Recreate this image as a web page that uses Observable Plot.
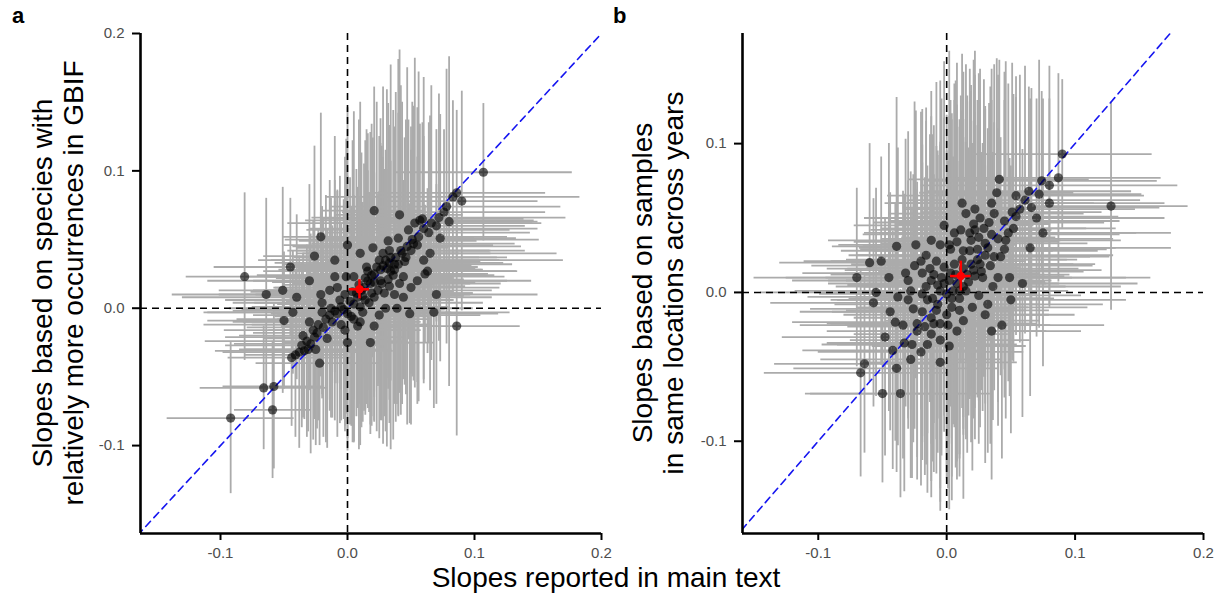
<!DOCTYPE html>
<html>
<head>
<meta charset="utf-8">
<script src="https://cdn.jsdelivr.net/npm/d3@7"></script>
<script src="https://cdn.jsdelivr.net/npm/@observablehq/plot@0.6"></script>
<style>
  html, body { margin: 0; padding: 0; background: #fff; }
  #wrap { position: relative; width: 1220px; height: 594px; overflow: hidden; font-family: "Liberation Sans", Arial, sans-serif; }
  .panel { position: absolute; top: 0; }
  .ytitle { position: absolute; white-space: nowrap; text-align: center; font-size: 28px; line-height: 31px; color: #000;
            transform: translate(-50%, -50%) rotate(-90deg); }
  .xtitle { position: absolute; white-space: nowrap; font-size: 28px; line-height: 30px; color: #000; transform: translateX(-50%); }
  .tag { position: absolute; font-weight: bold; font-size: 22px; color: #000; }
  svg.panel text { font-size: 15px !important; fill: #4d4d4d !important; font-family: "Liberation Sans", Arial, sans-serif !important; }
</style>
</head>
<body>
<div id="wrap">
  <div class="tag" style="left:12px; top:3px;">a</div>
  <div class="tag" style="left:613px; top:3px;">b</div>
  <div class="ytitle" style="left:58px; top:283px;">Slopes based on species with<br>relatively more occurrences in GBIF</div>
  <div class="ytitle" style="left:658px; top:283px;">Slopes based on samples<br>in same locations across years</div>
  <div class="xtitle" style="left:606px; top:563px;">Slopes reported in main text</div>
</div>
<script>
// ---- data: each row is [reported slope, alternative slope, x error (half width), y error (half width)]
const pointsA = [
  [-0.092,-0.080,0.050,0.055],[-0.081,0.023,0.046,0.061],[-0.064,0.010,0.074,0.070],[-0.051,0.013,0.050,0.075],
  [-0.050,-0.009,0.060,0.050],[-0.043,-0.003,0.070,0.045],[-0.041,-0.034,0.040,0.060],[-0.066,-0.058,0.050,0.045],
  [-0.058,-0.057,0.040,0.060],[-0.059,-0.074,0.030,0.050],[-0.022,-0.040,0.050,0.060],[-0.026,0.038,0.040,0.080],
  [-0.021,0.052,0.030,0.090],[0.000,0.046,0.050,0.100],[0.021,0.071,0.040,0.090],[0.041,0.068,0.050,0.120],
  [0.020,0.044,0.060,0.080],[0.032,0.049,0.070,0.100],[0.033,0.042,0.080,0.090],[0.040,0.051,0.060,0.130],
  [0.059,0.065,0.080,0.070],[0.080,0.063,0.070,0.120],[0.073,0.051,0.060,0.090],[0.086,0.084,0.070,0.060],
  [0.090,0.078,0.060,0.080],[0.063,0.027,0.070,0.060],[0.061,0.025,0.050,0.050],[0.044,0.023,0.080,0.070],
  [0.037,0.010,0.060,0.080],[0.044,0.008,0.070,0.060],[0.030,0.000,0.050,0.090],[0.039,0.000,0.060,0.070],
  [0.049,-0.004,0.070,0.080],[0.068,-0.003,0.060,0.070],[0.086,-0.013,0.050,0.080],[0.021,-0.013,0.050,0.070],
  [0.010,-0.010,0.040,0.090],[0.018,-0.025,0.050,0.060],[-0.002,-0.016,0.060,0.070],[-0.016,-0.022,0.050,0.080],
  [-0.010,0.023,0.070,0.070],[-0.001,0.023,0.060,0.100],[-0.021,0.010,0.080,0.060],[-0.014,0.013,0.060,0.080],
  [-0.008,0.015,0.050,0.070],[0.005,0.023,0.070,0.120],[0.016,0.027,0.060,0.100],[0.021,0.025,0.050,0.090],
  [0.026,0.028,0.080,0.110],[0.031,0.029,0.070,0.130],[0.037,0.032,0.060,0.100],[0.030,0.035,0.090,0.080],
  [0.034,0.037,0.070,0.140],[0.046,0.037,0.080,0.100],[0.050,0.042,0.090,0.090],[0.042,0.042,0.070,0.120],
  [0.045,0.034,0.060,0.090],[0.051,0.050,0.100,0.100],[0.048,0.057,0.080,0.080],[0.053,0.062,0.100,0.120],
  [0.057,0.064,0.090,0.070],[0.008,0.008,0.060,0.080],[0.011,0.013,0.050,0.100],[0.013,0.015,0.070,0.090],
  [0.018,0.018,0.060,0.110],[0.021,0.019,0.080,0.080],[0.005,0.003,0.060,0.070],[0.002,0.005,0.050,0.090],
  [-0.005,0.001,0.070,0.060],[-0.010,-0.002,0.080,0.080],[-0.014,-0.005,0.060,0.070],[-0.008,-0.004,0.050,0.090],
  [-0.020,-0.003,0.090,0.060],[-0.020,0.004,0.070,0.070],[-0.019,-0.014,0.060,0.080],[-0.024,-0.018,0.050,0.070],
  [-0.026,-0.021,0.070,0.060],[-0.029,-0.026,0.060,0.080],[-0.031,-0.030,0.050,0.060],[-0.034,-0.031,0.070,0.050],
  [-0.038,-0.032,0.060,0.070],[-0.003,-0.001,0.080,0.080],[0.000,-0.004,0.060,0.100],[0.010,0.001,0.070,0.070],
  [0.014,0.006,0.050,0.080],[0.021,0.008,0.060,0.090],[0.024,0.013,0.090,0.070],[0.027,0.018,0.070,0.100],
  [0.032,0.021,0.060,0.080],[0.036,0.024,0.080,0.120],[0.037,0.028,0.070,0.090],[0.040,0.032,0.090,0.110],
  [0.016,0.020,0.060,0.080],[0.107,0.099,0.070,0.050],[-0.044,-0.036,0.050,0.050],[0.000,-0.025,0.050,0.070],
  [0.008,-0.013,0.060,0.060],[0.025,0.035,0.050,0.090],[0.028,0.040,0.060,0.070],[0.064,0.055,0.080,0.080],
  [0.070,0.060,0.070,0.070],[0.076,0.070,0.080,0.060],[0.083,0.081,0.100,0.070],[0.012,0.009,0.080,0.060],
  [-0.012,-0.010,0.070,0.070],[0.003,-0.006,0.060,0.080],[0.007,0.011,0.070,0.090],[0.034,0.027,0.100,0.080],
  [0.055,0.046,0.060,0.100],[-0.035,-0.020,0.050,0.060],[-0.030,-0.010,0.060,0.050],[0.015,0.030,0.040,0.100],
  [-0.036,-0.027,0.060,0.060],[-0.032,-0.024,0.080,0.070],[-0.027,-0.016,0.070,0.080],[-0.023,-0.012,0.090,0.070],
  [-0.017,-0.008,0.070,0.090],[-0.013,0.000,0.080,0.080],[-0.006,0.006,0.090,0.090],[-0.002,0.010,0.070,0.100],
  [0.004,0.012,0.080,0.110],[0.009,0.017,0.060,0.120],[0.014,0.022,0.070,0.100],[0.019,0.024,0.090,0.110],
  [0.023,0.030,0.080,0.120],[0.028,0.031,0.070,0.130],[0.033,0.033,0.090,0.100],[0.038,0.037,0.080,0.120],
  [0.043,0.040,0.070,0.110],[0.047,0.045,0.090,0.130],[0.052,0.047,0.080,0.100],[0.056,0.052,0.070,0.120],
  [0.060,0.058,0.090,0.110],[0.066,0.062,0.080,0.100],[0.072,0.066,0.100,0.090],[0.078,0.074,0.090,0.100],
  [0.019,0.011,0.080,0.090],[0.026,0.020,0.100,0.100],[0.029,0.011,0.070,0.090],[0.033,0.016,0.060,0.100],
  [0.041,0.018,0.080,0.080],[0.012,-0.003,0.070,0.080],[0.005,-0.008,0.060,0.090],[-0.005,-0.012,0.070,0.070],
  [-0.040,0.008,0.090,0.060],[-0.030,0.020,0.080,0.070],[-0.045,0.030,0.060,0.050],[0.055,0.020,0.090,0.090],
  [0.065,0.040,0.100,0.100],[0.070,0.010,0.080,0.080],[0.050,0.015,0.070,0.100],[-0.010,0.035,0.060,0.090],
  [0.010,0.040,0.050,0.110],[0.017,0.004,0.090,0.080],[-0.025,-0.030,0.060,0.070],[0.025,-0.005,0.080,0.090],
  [0.060,0.035,0.110,0.090]
];
const pointsB = [
  [0.090,0.093,0.070,0.050],[0.087,0.077,0.080,0.070],[0.074,0.075,0.090,0.060],[0.041,0.076,0.070,0.080],
  [0.039,0.067,0.060,0.090],[0.054,0.065,0.100,0.080],[0.064,0.068,0.080,0.070],[0.061,0.062,0.090,0.090],
  [0.051,0.054,0.070,0.100],[0.054,0.051,0.080,0.080],[0.045,0.048,0.090,0.100],[0.052,0.043,0.080,0.090],
  [0.015,0.053,0.060,0.100],[0.022,0.056,0.050,0.090],[0.037,0.053,0.070,0.100],[0.021,0.046,0.060,0.110],
  [0.029,0.043,0.080,0.100],[0.011,0.042,0.070,0.090],[0.022,0.042,0.060,0.120],[0.033,0.047,0.090,0.080],
  [0.035,0.039,0.100,0.090],[0.019,0.035,0.070,0.100],[0.025,0.037,0.060,0.110],[0.030,0.033,0.080,0.090],
  [0.013,0.028,0.070,0.120],[0.024,0.029,0.060,0.100],[0.032,0.030,0.100,0.080],[0.037,0.024,0.090,0.090],
  [0.045,0.029,0.080,0.100],[0.042,0.024,0.070,0.080],[-0.005,0.032,0.060,0.110],[0.002,0.032,0.050,0.130],
  [0.003,0.029,0.070,0.100],[-0.024,0.032,0.060,0.090],[-0.039,0.031,0.050,0.100],[-0.060,0.020,0.070,0.080],
  [-0.051,0.021,0.060,0.070],[-0.032,0.013,0.080,0.090],[-0.020,0.021,0.070,0.100],[-0.019,0.013,0.060,0.110],
  [-0.013,0.016,0.080,0.090],[-0.008,0.021,0.070,0.120],[-0.002,0.017,0.060,0.100],[0.006,0.019,0.080,0.110],
  [0.003,0.013,0.070,0.090],[0.013,0.016,0.090,0.100],[0.019,0.019,0.080,0.120],[0.024,0.022,0.070,0.090],
  [0.021,0.015,0.100,0.100],[0.027,0.014,0.080,0.080],[0.022,0.011,0.070,0.110],[0.017,0.007,0.060,0.090],
  [0.013,0.004,0.080,0.100],[0.008,0.006,0.070,0.120],[-0.002,0.006,0.090,0.100],[-0.007,0.005,0.070,0.090],
  [-0.012,0.008,0.080,0.110],[-0.005,0.001,0.060,0.100],[0.000,-0.001,0.070,0.120],[0.005,0.001,0.090,0.090],
  [0.010,0.001,0.080,0.110],[0.015,0.001,0.070,0.100],[-0.028,0.001,0.090,0.080],[-0.019,-0.001,0.080,0.100],
  [-0.015,-0.005,0.070,0.090],[-0.011,-0.004,0.060,0.110],[-0.007,-0.008,0.080,0.100],[0.010,-0.004,0.070,0.120],
  [0.036,0.004,0.100,0.090],[0.032,-0.008,0.090,0.100],[0.049,0.010,0.110,0.080],[0.059,0.006,0.090,0.090],
  [-0.057,-0.007,0.080,0.070],[-0.044,-0.013,0.070,0.080],[-0.026,-0.011,0.080,0.090],[-0.019,-0.013,0.070,0.100],
  [-0.012,-0.017,0.060,0.110],[-0.010,-0.021,0.080,0.100],[-0.023,-0.021,0.070,0.090],[-0.017,-0.023,0.060,0.100],
  [-0.005,-0.021,0.070,0.120],[0.001,-0.022,0.080,0.110],[0.010,-0.012,0.070,0.100],[0.013,-0.019,0.060,0.120],
  [0.043,-0.022,0.080,0.090],[0.035,-0.026,0.070,0.100],[-0.034,-0.022,0.080,0.090],[-0.023,-0.026,0.070,0.100],
  [-0.012,-0.028,0.060,0.110],[-0.005,-0.032,0.070,0.100],[0.002,-0.036,0.060,0.110],[-0.027,-0.035,0.070,0.090],
  [-0.033,-0.034,0.060,0.100],[-0.042,-0.039,0.070,0.080],[-0.005,-0.047,0.060,0.100],[-0.039,-0.051,0.080,0.070],
  [-0.064,-0.048,0.070,0.060],[-0.067,-0.054,0.075,0.070],[-0.050,-0.068,0.060,0.060],[-0.036,-0.068,0.070,0.070],
  [0.128,0.058,0.060,0.070],[0.070,0.050,0.100,0.080],[0.080,0.060,0.090,0.070],[0.006,0.040,0.070,0.100],
  [0.028,0.010,0.070,0.090],[-0.016,0.025,0.060,0.090],[0.046,0.035,0.090,0.120],[-0.030,-0.005,0.060,0.080],
  [0.018,0.028,0.100,0.100],[0.004,-0.010,0.060,0.130],
  [-0.045,0.010,0.080,0.090],[-0.038,-0.003,0.070,0.100],[-0.030,0.008,0.090,0.100],[-0.025,0.018,0.080,0.110],
  [-0.016,0.004,0.070,0.120],[-0.010,0.012,0.080,0.100],[-0.004,0.010,0.090,0.120],[0.002,0.008,0.080,0.110],
  [0.007,0.012,0.070,0.130],[0.012,0.022,0.090,0.100],[0.016,0.012,0.080,0.120],[0.026,0.019,0.090,0.110],
  [0.030,0.025,0.100,0.100],[0.034,0.018,0.080,0.120],[0.040,0.036,0.090,0.110],[0.048,0.040,0.100,0.100],
  [0.057,0.056,0.090,0.090],[0.066,0.057,0.100,0.080],[0.072,0.066,0.080,0.090],[0.080,0.072,0.100,0.080],
  [0.018,0.040,0.070,0.110],[0.008,0.034,0.080,0.120],[0.026,0.050,0.090,0.100],[0.035,0.060,0.080,0.090],
  [-0.008,-0.012,0.070,0.110],[0.004,-0.004,0.080,0.120],[0.008,-0.026,0.070,0.100],[0.020,-0.010,0.090,0.110],
  [0.025,-0.002,0.080,0.100],[-0.015,-0.035,0.070,0.100],[-0.020,-0.040,0.080,0.090],[-0.028,-0.045,0.070,0.080],
  [-0.048,-0.030,0.080,0.080],[-0.055,0.000,0.090,0.070],[-0.070,0.010,0.080,0.060],[0.040,0.010,0.100,0.100],
  [0.050,-0.005,0.090,0.090],[0.065,0.030,0.110,0.100],[0.075,0.040,0.100,0.090],[-0.002,0.045,0.070,0.110],
  [0.012,0.060,0.060,0.100],[-0.012,0.035,0.080,0.100],[0.000,-0.015,0.080,0.110],[0.030,-0.015,0.070,0.100],
  [-0.040,-0.020,0.080,0.080]
];
// mean across species: [x, y, x error, y error]
const meanA = [0.0094, 0.0138, 0.008, 0.007];
const meanB = [0.011, 0.011, 0.008, 0.010];
const xTicks = [-0.1, 0.0, 0.1, 0.2];
const yTicksA = [-0.1, 0.0, 0.1, 0.2];
const yTicksB = [-0.1, 0.0, 0.1];
const identityEnds = [-0.3, 0.3];

function panel(points, mean, xDomain, yDomain, yTicks, marginLeft, marginRight) {
  const rows = points.map(([x, y, xe, ye]) => ({x, y, xe, ye}));
  const m = [{x: mean[0], y: mean[1], xe: mean[2], ye: mean[3]}];
  const grey = "#ababab";
  const fmt = d => d.toFixed(1);
  const svg = Plot.plot({
    width: 610, height: 594,
    marginLeft, marginRight, marginTop: 33, marginBottom: 61,
    x: {domain: xDomain},
    y: {domain: yDomain},
    style: {fontFamily: "'Liberation Sans', Arial, sans-serif", fontSize: "15px", background: "transparent", overflow: "visible"},
    marks: [
      Plot.ruleX(rows, {x: "x", y1: d => d.y - d.ye, y2: d => d.y + d.ye, stroke: grey, strokeWidth: 1.8}),
      Plot.ruleY(rows, {y: "y", x1: d => d.x - d.xe, x2: d => d.x + d.xe, stroke: grey, strokeWidth: 1.8}),
      Plot.ruleX([0], {stroke: "black", strokeWidth: 1.6, strokeDasharray: "7,5"}),
      Plot.ruleY([0], {stroke: "black", strokeWidth: 1.6, strokeDasharray: "7,5"}),
      Plot.line(identityEnds.map(v => ({v})), {x: "v", y: "v", stroke: "#1515f0", strokeWidth: 1.6, strokeDasharray: "7,5", clip: true}),
      Plot.dot(rows, {x: "x", y: "y", r: 4.6, fill: "black", fillOpacity: 0.62, stroke: "none"}),
      Plot.ruleX(m, {x: "x", y1: d => d.y - d.ye, y2: d => d.y + d.ye, stroke: "red", strokeWidth: 2.5}),
      Plot.ruleY(m, {y: "y", x1: d => d.x - d.xe, x2: d => d.x + d.xe, stroke: "red", strokeWidth: 2.5}),
      Plot.dot(m, {x: "x", y: "y", r: 4.2, fill: "red", stroke: "none"}),
      Plot.ruleX([xDomain[0]], {stroke: "black", strokeWidth: 2.6}),
      Plot.ruleY([yDomain[0]], {stroke: "black", strokeWidth: 2.6}),
      Plot.axisX({ticks: xTicks, tickSize: 7, tickPadding: 7, tickFormat: fmt, label: null, strokeWidth: 2}),
      Plot.axisY({ticks: yTicks, tickSize: 8, tickPadding: 8, tickFormat: fmt, label: null, strokeWidth: 2})
    ]
  });
  svg.querySelectorAll("text").forEach(t => {
    t.setAttribute("font-size", "15");
    t.style.fontSize = "15px";
    t.style.fill = "#4d4d4d";
  });
  return svg;
}

const wrap = document.getElementById("wrap");
const a = panel(pointsA, meanA, [-0.163, 0.2], [-0.164, 0.2], yTicksA, 140, 9);
a.classList.add("panel"); a.style.left = "0px";
const b = panel(pointsB, meanB, [-0.159, 0.2], [-0.162, 0.174], yTicksB, 132, 17);
b.classList.add("panel"); b.style.left = "610px";
wrap.prepend(b);
wrap.prepend(a);
</script>
</body>
</html>
